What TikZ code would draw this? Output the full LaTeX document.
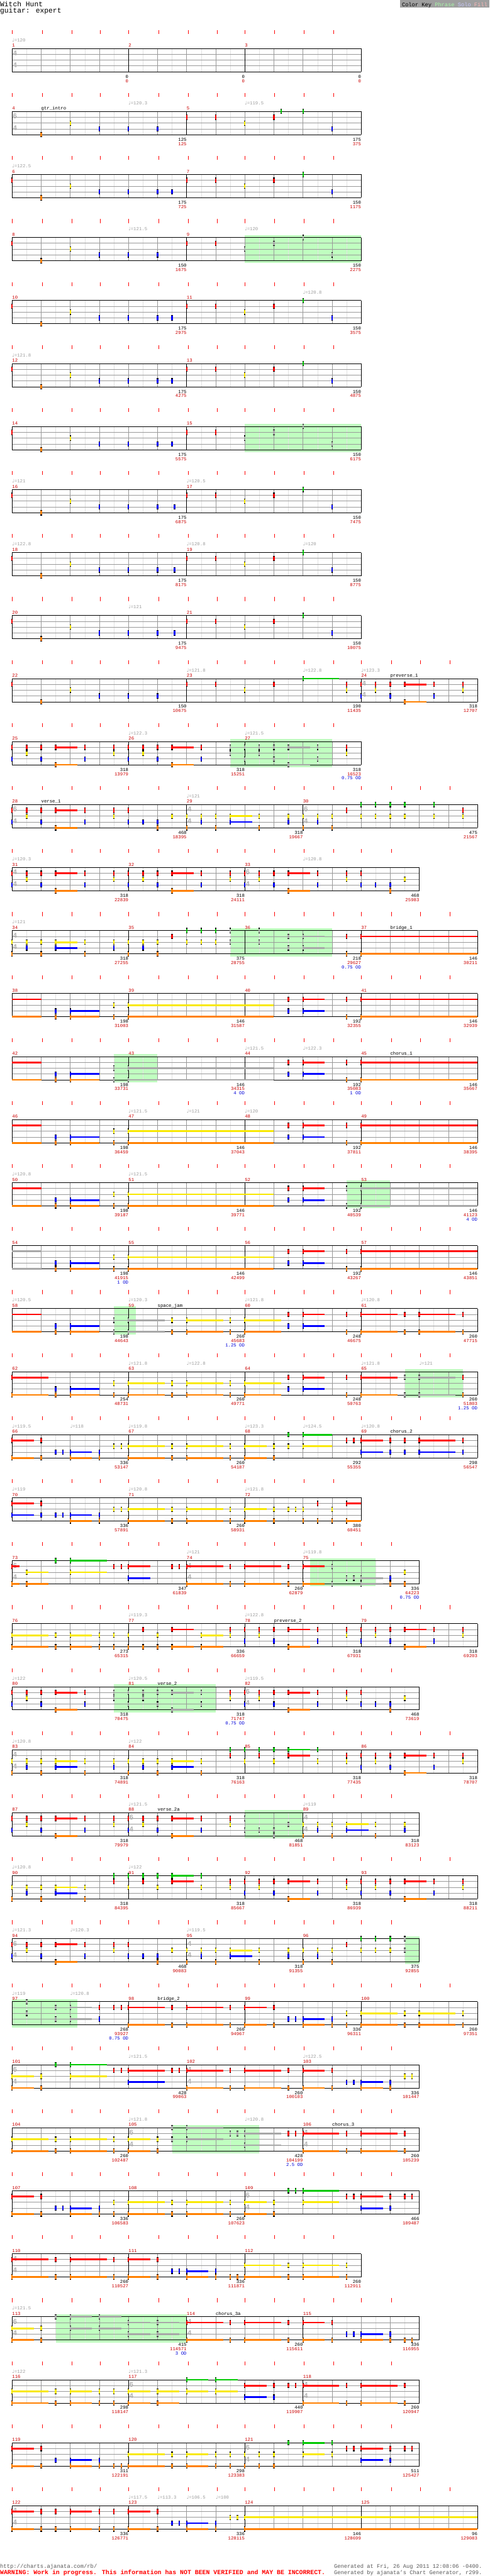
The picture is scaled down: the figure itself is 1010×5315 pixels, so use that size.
\documentclass[tikz,border=0pt]{standalone}
\usepackage{fontspec}
\setmainfont{Liberation Mono}
\newfontfamily\notefont{DejaVu Sans}
\definecolor{cG}{HTML}{00C800}
\definecolor{cR}{HTML}{FF0000}
\definecolor{cY}{HTML}{F8E800}
\definecolor{cB}{HTML}{0000FF}
\definecolor{cO}{HTML}{FF8000}
\definecolor{odg}{HTML}{A8A8A8}
\definecolor{odbg}{HTML}{C0FFC0}
\definecolor{gridl}{HTML}{E2E2E2}
\definecolor{gridd}{HTML}{999999}
\definecolor{numred}{HTML}{CC0000}
\definecolor{keyg}{HTML}{A8F8A8}
\definecolor{keyb}{HTML}{C8C8FF}
\definecolor{keyr}{HTML}{FFB8B8}

\def\lG{0}\def\lR{12}\def\lY{24}\def\lB{36}\def\lO{48}
\def\tA{25,88,148,207,265,328,388,448,505,567,628,688}
\def\tB{25,88,148,207,265,328,388,448,505,567,628,688,745,808}
\def\tC{25,88,148,207,265,328,388,448,505,567,628,688,745,808,868,928}

\newcommand{\nb}[3]{\fill[black] ({#3-1.5},{#2-5.5}) rectangle ({#3+1.5},{#2+5.5});\fill[#1] ({#3-1.5},{#2-4}) rectangle ({#3+1.5},{#2+4});}
\newcommand{\hold}[4]{\fill[#1] ({#3},{#2-1.8}) rectangle ({#4},{#2+1.8});}
\newcommand{\nt}[2]{\nb{c#1}{\csname l#1\endcsname}{#2}}
\newcommand{\gnt}[2]{\nb{odg}{\csname l#1\endcsname}{#2}}
\newcommand{\su}[3]{\hold{c#1}{\csname l#1\endcsname}{#2}{#3}\nt{#1}{#2}}
\newcommand{\gsu}[3]{\hold{odg}{\csname l#1\endcsname}{#2}{#3}\gnt{#1}{#2}}
\newcommand{\cont}[3]{\hold{c#1}{\csname l#1\endcsname}{#2}{#3}}
\newcommand{\gcont}[3]{\hold{odg}{\csname l#1\endcsname}{#2}{#3}}
\newcommand{\nn}[3]{\nt{#1}{#3}\nt{#2}{#3}}
\newcommand{\gnn}[3]{\gnt{#1}{#3}\gnt{#2}{#3}}
\newcommand{\dsu}[4]{\su{#1}{#3}{#4}\su{#2}{#3}{#4}}
\newcommand{\gdsu}[4]{\gsu{#1}{#3}{#4}\gsu{#2}{#3}{#4}}
\newcommand{\introA}[1]{\nt{R}{#1}\nt{O}{#1+60}\nt{Y}{#1+120}\nt{B}{#1+180}\nt{B}{#1+240}\nt{B}{#1+300}}
\newcommand{\introB}[1]{\nt{R}{#1}\nt{R}{#1+60}\nt{Y}{#1+120}\nt{R}{#1+180}\nt{G}{#1+240}\nt{B}{#1+300}}
\newcommand{\vriff}[1]{\nn{R}{B}{#1}\nn{R}{Y}{#1+30}\nn{R}{B}{#1+60}\dsu{R}{O}{#1+90}{#1+135}\nn{R}{B}{#1+150}\nn{R}{Y}{#1+210}}

\newcommand{\rowgrid}[2]{%
  \foreach \x in #2 {\draw[tickmark] (\x,-38) -- (\x,-30);}
  \foreach \x in {55,115,...,#1} {\draw[halfbeat] (\x,0) -- (\x,48);}
  \foreach \x in {85,145,...,#1} {\draw[beat] (\x,0) -- (\x,48);}
  \foreach \y in {12,24,36} {\draw[lane] (25,\y) -- (#1,\y);}
  \draw[staffedge] (25,0) -- (#1,0) (25,48) -- (#1,48) (#1,0) -- (#1,48);}
\newcommand{\meas}[2]{\draw[barline] (#1,0) -- (#1,48);\node[mnum] at (#1,-3) {#2};}
\newcommand{\tempo}[2]{\node[tempo] at (#1,-14) {{\notefont ♩}=#2};}
\newcommand{\sect}[2]{\node[sect] at (#1,-3) {#2};}
\newcommand{\cnt}[3]{\node[cntb] at (#1,61) {#2};\node[cntr] at (#1,70) {#3};}
\newcommand{\odn}[2]{\node[odl] at (#1,79) {#2 OD};}
\newcommand{\odbox}[2]{\fill[odbg] (#1,-5) rectangle (#2,53);}
\newcommand{\ts}[2]{\node[tsig] at (#1+6,10) {#2};\node[tsig] at (#1+6,34) {4};}

\begin{document}
\begin{tikzpicture}[x=1pt, y=-1pt,
    tickmark/.style={cR, line width=1.3pt},
    halfbeat/.style={gridl, line width=0.7pt},
    beat/.style={gridd, line width=0.8pt},
    lane/.style={gridd, line width=1pt},
    staffedge/.style={black, line width=1pt},
    barline/.style={black, line width=0.8pt},
    mnum/.style={anchor=base west, inner sep=0pt, text=numred, font=\fontsize{9.5}{9.5}\selectfont},
    tempo/.style={anchor=base west, inner sep=0pt, text=gray!75, font=\fontsize{9.5}{9.5}\selectfont},
    sect/.style={anchor=base west, inner sep=0pt, font=\fontsize{9.5}{9.5}\selectfont},
    cntb/.style={anchor=base east, inner sep=0pt, font=\fontsize{9.5}{9.5}\selectfont},
    cntr/.style={cntb, text=numred},
    odl/.style={cntb, text=blue!85!black},
    tsig/.style={inner sep=0pt, text=gray!60, font=\fontsize{15}{15}\selectfont\bfseries},
    foot/.style={anchor=base west, inner sep=0pt, font=\fontsize{11.5}{11.5}\selectfont}
]
\fill[white] (0,0) rectangle (1010,5315);
\node[anchor=base west, inner sep=0pt, font=\fontsize{14.7}{14.7}\selectfont] (title) at (0,13) {Witch Hunt};
\node[anchor=base west, inner sep=0pt, font=\fontsize{14.7}{14.7}\selectfont] (part) at (0,27) {guitar: expert};
\fill[gray!75] (825,0) rectangle (1010,16);
\node[anchor=base west, inner sep=0pt, font=\fontsize{11.3}{11.3}\selectfont] (key) at (829,13) {Color Key \textcolor{keyg}{Phrase} \textcolor{keyb}{Solo} \textcolor{keyr}{Fill}};

\begin{scope}[shift={(0,100)}]
\rowgrid{745}{\tA}
\meas{25}{1}\meas{265}{2}\meas{505}{3}
\ts{25}{4}
\tempo{25}{120}
\cnt{265}{0}{0}\cnt{505}{0}{0}\cnt{745}{0}{0}
\end{scope}

\begin{scope}[shift={(0,230)}]
\rowgrid{745}{\tA}
\meas{25}{4}\meas{385}{5}
\ts{25}{6}
\tempo{265}{120.3}\tempo{505}{119.5}
\sect{85}{gtr\_intro}
\nt{O}{85}\nt{Y}{145}\nt{B}{205}\nt{B}{265}\nt{B}{325}
\nt{R}{385}\nt{R}{445}\nt{Y}{505}\nt{R}{565}\nt{G}{580}\nt{G}{625}\nt{B}{685}
\cnt{385}{125}{125}\cnt{745}{175}{375}
\end{scope}

\begin{scope}[shift={(0,360)}]
\rowgrid{745}{\tA}
\meas{25}{6}\meas{385}{7}
\tempo{25}{122.5}
\introA{25}\nt{B}{355}\introB{385}
\cnt{385}{175}{725}\cnt{745}{150}{1175}
\end{scope}

\begin{scope}[shift={(0,490)}]
\odbox{505}{745}
\rowgrid{745}{\tA}
\meas{25}{8}\meas{385}{9}
\tempo{265}{121.5}\tempo{505}{120}
\introA{25}\nt{R}{385}\nt{R}{445}\gnt{Y}{505}\gnt{R}{565}\gnt{G}{625}\gnt{B}{685}
\cnt{385}{150}{1675}\cnt{745}{150}{2275}
\end{scope}

\begin{scope}[shift={(0,620)}]
\rowgrid{745}{\tA}
\meas{25}{10}\meas{385}{11}
\tempo{625}{120.8}
\introA{25}\nt{B}{355}\introB{385}
\cnt{385}{175}{2975}\cnt{745}{150}{3575}
\end{scope}

\begin{scope}[shift={(0,750)}]
\rowgrid{745}{\tA}
\meas{25}{12}\meas{385}{13}
\tempo{25}{121.8}
\introA{25}\nt{B}{355}\introB{385}
\cnt{385}{175}{4275}\cnt{745}{150}{4875}
\end{scope}

\begin{scope}[shift={(0,880)}]
\odbox{505}{745}
\rowgrid{745}{\tA}
\meas{25}{14}\meas{385}{15}
\introA{25}\nt{B}{355}\nt{R}{385}\nt{R}{445}\gnt{Y}{505}\gnt{R}{565}\gnt{G}{625}\gnt{B}{685}
\cnt{385}{175}{5575}\cnt{745}{150}{6175}
\end{scope}

\begin{scope}[shift={(0,1010)}]
\rowgrid{745}{\tA}
\meas{25}{16}\meas{385}{17}
\tempo{25}{121}\tempo{385}{120.5}
\introA{25}\nt{B}{360}\introB{385}
\cnt{385}{175}{6875}\cnt{745}{150}{7475}
\end{scope}

\begin{scope}[shift={(0,1140)}]
\rowgrid{745}{\tA}
\meas{25}{18}\meas{385}{19}
\tempo{25}{122.8}\tempo{385}{120.8}\tempo{625}{120}
\introA{25}\nt{B}{360}\introB{385}
\cnt{385}{175}{8175}\cnt{745}{150}{8775}
\end{scope}

\begin{scope}[shift={(0,1270)}]
\rowgrid{745}{\tA}
\meas{25}{20}\meas{385}{21}
\tempo{265}{121}
\introA{25}\nt{B}{360}\introB{385}
\cnt{385}{175}{9475}\cnt{745}{150}{10075}
\end{scope}

\begin{scope}[shift={(0,1400)}]
\rowgrid{985}{\tC}
\meas{25}{22}\meas{385}{23}\meas{745}{24}
\ts{745}{4}
\tempo{385}{121.8}\tempo{625}{122.8}\tempo{745}{123.3}
\sect{805}{preverse\_1}
\introA{25}\nt{R}{385}\nt{R}{445}\nt{Y}{505}\nt{R}{565}\su{G}{625}{700}
\nn{R}{Y}{715}\nn{R}{B}{745}\nn{R}{Y}{775}\nn{R}{B}{805}\dsu{R}{O}{835}{880}\nn{R}{B}{895}\nn{R}{Y}{955}
\cnt{385}{150}{10675}\cnt{745}{190}{11435}\cnt{985}{318}{12707}
\end{scope}

\begin{scope}[shift={(0,1530)}]
\odbox{475}{685}
\rowgrid{745}{\tA}
\meas{25}{25}\meas{265}{26}\meas{505}{27}
\tempo{265}{122.3}\tempo{505}{121.5}
\vriff{25}
\nn{R}{B}{265}\nn{R}{Y}{295}\nn{R}{B}{325}\dsu{R}{O}{355}{400}\nn{R}{B}{415}
\gnn{R}{Y}{475}\gnn{R}{B}{505}\gnn{R}{Y}{535}\gnn{R}{B}{565}\gdsu{R}{O}{595}{640}\gnn{R}{B}{655}
\nn{R}{Y}{715}
\cnt{265}{318}{13979}\cnt{505}{318}{15251}\cnt{745}{318}{16523}\odn{745}{0.75}
\end{scope}

\begin{scope}[shift={(0,1660)}]
\rowgrid{985}{\tC}
\meas{25}{28}\meas{385}{29}\meas{625}{30}
\ts{25}{6}\ts{385}{4}\ts{625}{6}
\tempo{385}{121}
\sect{85}{verse\_1}
\nn{R}{B}{25}\nn{R}{Y}{55}\nn{R}{B}{85}\dsu{R}{O}{115}{160}\nn{R}{B}{175}\nn{R}{Y}{235}\nn{R}{B}{265}
\nt{B}{295}\nn{B}{O}{325}\nt{Y}{355}\nn{Y}{O}{385}\nn{Y}{B}{415}\nn{Y}{O}{445}\dsu{Y}{B}{475}{520}
\nn{Y}{O}{535}\nn{Y}{B}{595}\nn{Y}{O}{625}\nn{Y}{B}{655}\nn{Y}{O}{685}\nt{R}{715}
\nn{G}{Y}{745}\nn{G}{Y}{775}\nn{G}{Y}{805}\nn{G}{Y}{835}\nn{G}{Y}{895}\nn{R}{Y}{955}
\cnt{385}{468}{18395}\cnt{625}{318}{19667}\cnt{985}{475}{21567}
\end{scope}

\begin{scope}[shift={(0,1790)}]
\rowgrid{865}{\tB}
\meas{25}{31}\meas{265}{32}\meas{505}{33}
\ts{25}{4}\ts{505}{6}
\tempo{25}{120.3}\tempo{625}{120.8}
\vriff{25}\vriff{265}
\nn{R}{B}{505}\nn{R}{Y}{535}\nn{R}{B}{565}\dsu{R}{O}{595}{640}\nn{R}{B}{655}\nn{R}{Y}{715}
\nn{R}{B}{745}\nt{B}{775}\nn{B}{O}{805}\nt{Y}{835}
\cnt{265}{318}{22839}\cnt{505}{318}{24111}\cnt{865}{468}{25983}
\end{scope}

\begin{scope}[shift={(0,1920)}]
\odbox{475}{685}
\rowgrid{985}{\tC}
\meas{25}{34}\meas{265}{35}\meas{505}{36}\meas{745}{37}
\ts{25}{4}
\tempo{25}{121}
\sect{805}{bridge\_1}
\nn{Y}{O}{25}\nn{Y}{B}{55}\nn{Y}{O}{85}\dsu{Y}{B}{115}{160}\nn{Y}{O}{175}\nn{Y}{B}{235}
\nn{Y}{O}{265}\nn{Y}{B}{295}\nn{Y}{O}{325}\nt{R}{355}\nn{G}{Y}{385}\nn{G}{Y}{415}\nn{G}{Y}{445}
\gnn{G}{Y}{475}\gnn{G}{Y}{535}\gnn{R}{B}{595}\gdsu{R}{B}{625}{670}
\nn{R}{O}{715}\dsu{R}{O}{745}{985}
\cnt{265}{318}{27255}\cnt{505}{375}{28755}\cnt{745}{218}{29627}\cnt{985}{146}{30211}\odn{745}{0.75}
\end{scope}

\begin{scope}[shift={(0,2050)}]
\rowgrid{985}{\tC}
\meas{25}{38}\meas{265}{39}\meas{505}{40}\meas{745}{41}
\cont{R}{25}{85}\cont{O}{25}{85}
\nn{B}{O}{115}\dsu{B}{O}{145}{205}\nn{Y}{O}{235}\dsu{Y}{O}{265}{565}
\nn{R}{B}{595}\dsu{R}{B}{625}{670}\nn{R}{O}{715}\dsu{R}{O}{745}{985}
\cnt{265}{198}{31003}\cnt{505}{146}{31587}\cnt{745}{192}{32355}\cnt{985}{146}{32939}
\end{scope}

\begin{scope}[shift={(0,2180)}]
\odbox{235}{325}
\rowgrid{985}{\tC}
\meas{25}{42}\meas{265}{43}\meas{505}{44}\meas{745}{45}
\tempo{505}{121.5}\tempo{625}{122.3}
\sect{805}{chorus\_1}
\cont{R}{25}{85}\cont{O}{25}{85}
\nn{B}{O}{115}\dsu{B}{O}{145}{205}\gnn{Y}{O}{235}\gdsu{Y}{O}{265}{565}
\nn{R}{B}{595}\dsu{R}{B}{625}{670}\nn{R}{O}{715}\dsu{R}{O}{745}{985}
\cnt{265}{198}{33731}\cnt{505}{146}{34315}\cnt{745}{192}{35083}\cnt{985}{146}{35667}
\odn{505}{4}\odn{745}{1}
\end{scope}

\begin{scope}[shift={(0,2310)}]
\rowgrid{985}{\tC}
\meas{25}{46}\meas{265}{47}\meas{505}{48}\meas{745}{49}
\tempo{265}{121.5}\tempo{385}{121}\tempo{505}{120}
\cont{R}{25}{85}\cont{O}{25}{85}
\nn{B}{O}{115}\dsu{B}{O}{145}{205}\nn{Y}{O}{235}\dsu{Y}{O}{265}{565}
\nn{R}{B}{595}\dsu{R}{B}{625}{670}\nn{R}{O}{715}\dsu{R}{O}{745}{985}
\cnt{265}{198}{36459}\cnt{505}{146}{37043}\cnt{745}{192}{37811}\cnt{985}{146}{38395}
\end{scope}

\begin{scope}[shift={(0,2440)}]
\odbox{715}{805}
\rowgrid{985}{\tC}
\meas{25}{50}\meas{265}{51}\meas{505}{52}\meas{745}{53}
\tempo{25}{120.8}\tempo{265}{121.5}
\cont{R}{25}{85}\cont{O}{25}{85}
\nn{B}{O}{115}\dsu{B}{O}{145}{205}\nn{Y}{O}{235}\dsu{Y}{O}{265}{565}
\nn{R}{B}{595}\dsu{R}{B}{625}{670}\gnn{R}{O}{715}\gdsu{R}{O}{745}{985}
\cnt{265}{198}{39187}\cnt{505}{146}{39771}\cnt{745}{192}{40539}\cnt{985}{146}{41123}\odn{985}{4}
\end{scope}

\begin{scope}[shift={(0,2570)}]
\rowgrid{985}{\tC}
\meas{25}{54}\meas{265}{55}\meas{505}{56}\meas{745}{57}
\gcont{R}{25}{85}\gcont{O}{25}{85}
\nn{B}{O}{115}\dsu{B}{O}{145}{205}\nn{Y}{O}{235}\dsu{Y}{O}{265}{565}
\nn{R}{B}{595}\dsu{R}{B}{625}{670}\nn{R}{O}{715}\dsu{R}{O}{745}{985}
\cnt{265}{198}{41915}\cnt{505}{146}{42499}\cnt{745}{192}{43267}\cnt{985}{146}{43851}\odn{265}{1}
\end{scope}

\begin{scope}[shift={(0,2700)}]
\odbox{235}{280}
\rowgrid{985}{\tC}
\meas{25}{58}\meas{265}{59}\meas{505}{60}\meas{745}{61}
\tempo{25}{120.5}\tempo{265}{120.3}\tempo{505}{121.8}\tempo{745}{120.8}
\sect{325}{space\_jam}
\cont{R}{25}{85}\cont{O}{25}{85}
\nn{B}{O}{115}\dsu{B}{O}{145}{205}\gnn{Y}{O}{235}\gdsu{Y}{O}{265}{340}\nn{Y}{O}{355}\dsu{Y}{O}{385}{460}
\nn{Y}{O}{475}\dsu{Y}{O}{505}{580}\nn{R}{B}{595}\dsu{R}{B}{625}{670}\nn{R}{O}{715}\dsu{R}{O}{745}{820}
\nn{R}{O}{835}\dsu{R}{O}{865}{940}\nn{R}{O}{955}
\cnt{265}{198}{44643}\cnt{505}{260}{45683}\cnt{745}{248}{46675}\cnt{985}{260}{47715}\odn{505}{1.25}
\end{scope}

\begin{scope}[shift={(0,2830)}]
\odbox{835}{955}
\rowgrid{985}{\tC}
\meas{25}{62}\meas{265}{63}\meas{505}{64}\meas{745}{65}
\tempo{265}{121.8}\tempo{385}{122.8}\tempo{745}{121.8}\tempo{865}{121}
\dsu{R}{O}{25}{100}\nn{B}{O}{115}\dsu{B}{O}{145}{205}\nn{Y}{O}{235}\dsu{Y}{O}{265}{340}\nn{Y}{O}{355}
\dsu{Y}{O}{385}{460}\nn{Y}{O}{475}\dsu{Y}{O}{505}{580}\nn{R}{B}{595}\dsu{R}{B}{625}{670}\nn{R}{O}{715}
\dsu{R}{O}{745}{820}\gnn{R}{O}{835}\gdsu{R}{O}{865}{940}\nn{R}{O}{955}
\cnt{265}{254}{48731}\cnt{505}{260}{49771}\cnt{745}{248}{50763}\cnt{985}{260}{51803}\odn{985}{1.25}
\end{scope}

\begin{scope}[shift={(0,2960)}]
\rowgrid{985}{\tC}
\meas{25}{66}\meas{265}{67}\meas{505}{68}\meas{745}{69}
\tempo{25}{119.5}\tempo{145}{118}\tempo{265}{119.8}\tempo{505}{123.3}\tempo{625}{124.5}\tempo{745}{120.8}
\sect{805}{chorus\_2}
\dsu{R}{O}{25}{70}\nn{R}{O}{85}\nt{B}{115}\nt{B}{130}\dsu{B}{O}{145}{190}\nn{B}{O}{205}\nt{Y}{235}\nt{Y}{250}
\dsu{Y}{O}{265}{340}\nn{Y}{O}{355}\dsu{Y}{O}{385}{460}\nn{Y}{O}{475}\dsu{Y}{O}{505}{550}\nn{Y}{O}{565}
\nn{G}{Y}{595}\dsu{G}{Y}{625}{685}\nt{R}{715}\nt{R}{730}\dsu{R}{B}{745}{790}\nn{R}{B}{805}\nn{R}{B}{835}
\dsu{R}{B}{865}{940}\nn{R}{B}{955}
\cnt{265}{336}{53147}\cnt{505}{260}{54187}\cnt{745}{292}{55355}\cnt{985}{298}{56547}
\end{scope}

\begin{scope}[shift={(0,3090)}]
\rowgrid{745}{\tA}
\meas{25}{70}\meas{265}{71}\meas{505}{72}
\tempo{25}{119}\tempo{265}{120.8}\tempo{505}{121.8}
\dsu{R}{B}{25}{70}\nn{R}{B}{85}\nt{B}{115}\nt{B}{130}\dsu{B}{O}{145}{190}\nn{B}{O}{205}\nt{Y}{235}\nt{Y}{250}
\dsu{Y}{O}{265}{340}\nn{Y}{O}{355}\dsu{Y}{O}{385}{460}\nn{Y}{O}{475}\dsu{Y}{O}{505}{550}\nn{Y}{O}{565}
\nt{Y}{595}\nt{Y}{610}\nn{Y}{O}{625}\nn{R}{O}{655}\nn{Y}{O}{685}\dsu{R}{O}{715}{745}
\cnt{265}{336}{57891}\cnt{505}{260}{58931}\cnt{745}{380}{60451}
\end{scope}

\begin{scope}[shift={(0,3220)}]
\odbox{640}{775}
\rowgrid{865}{\tB}
\meas{25}{73}\meas{385}{74}\meas{625}{75}
\ts{25}{6}\ts{385}{4}
\tempo{385}{121}\tempo{625}{119.8}
\dsu{R}{O}{25}{40}\dsu{Y}{O}{55}{100}\nt{G}{115}\dsu{G}{Y}{145}{220}\nt{R}{235}\nt{R}{250}\dsu{R}{B}{265}{310}
\nt{R}{355}\nt{R}{370}\dsu{R}{O}{385}{460}\nn{R}{O}{475}\dsu{R}{O}{505}{580}\nn{R}{O}{595}\dsu{R}{O}{625}{670}
\gnn{R}{O}{685}\gnt{B}{715}\gnt{B}{730}\gdsu{B}{O}{745}{790}\nn{B}{O}{805}\nn{Y}{O}{835}
\cnt{385}{347}{61839}\cnt{625}{260}{62879}\cnt{865}{336}{64223}\odn{865}{0.75}
\end{scope}

\begin{scope}[shift={(0,3350)}]
\rowgrid{985}{\tC}
\meas{25}{76}\meas{265}{77}\meas{505}{78}\meas{745}{79}
\tempo{265}{119.3}\tempo{505}{122.8}
\sect{565}{preverse\_2}
\dsu{Y}{O}{25}{100}\nn{Y}{O}{115}\dsu{Y}{O}{145}{190}\nn{Y}{O}{205}\nn{Y}{O}{235}\nn{Y}{O}{265}\nn{R}{O}{295}
\nn{Y}{O}{325}\dsu{R}{O}{355}{400}\dsu{Y}{O}{415}{460}\nn{R}{Y}{475}\nn{R}{B}{505}\nn{R}{Y}{535}\nn{R}{B}{565}
\dsu{R}{O}{595}{640}\nn{R}{B}{655}\nn{R}{Y}{715}\nn{R}{B}{745}\nn{R}{Y}{775}\nn{R}{B}{805}\dsu{R}{O}{835}{880}
\nn{R}{B}{895}\nn{R}{Y}{955}
\cnt{265}{273}{65315}\cnt{505}{336}{66659}\cnt{745}{318}{67931}\cnt{985}{318}{69203}
\end{scope}

\begin{scope}[shift={(0,3480)}]
\odbox{235}{445}
\rowgrid{865}{\tB}
\meas{25}{80}\meas{265}{81}\meas{505}{82}
\ts{505}{6}
\tempo{25}{122}\tempo{265}{120.5}\tempo{505}{119.5}
\sect{325}{verse\_2}
\nn{R}{B}{25}\nn{R}{Y}{55}\nn{R}{B}{85}\dsu{R}{O}{115}{160}\nn{R}{B}{175}
\gnn{R}{Y}{235}\gnn{R}{B}{265}\gnn{R}{Y}{295}\gnn{R}{B}{325}\gdsu{R}{O}{355}{400}\gnn{R}{B}{415}
\nn{R}{Y}{475}\nn{R}{B}{505}\nn{R}{Y}{535}\nn{R}{B}{565}\dsu{R}{O}{595}{640}\nn{R}{B}{655}\nn{R}{Y}{715}
\nn{R}{B}{745}\nt{B}{775}\nn{B}{O}{805}\nt{Y}{835}
\cnt{265}{318}{70475}\cnt{505}{318}{71747}\cnt{865}{468}{73619}\odn{505}{0.75}
\end{scope}

\begin{scope}[shift={(0,3610)}]
\rowgrid{985}{\tC}
\meas{25}{83}\meas{265}{84}\meas{505}{85}\meas{745}{86}
\ts{25}{4}
\tempo{25}{120.8}\tempo{265}{122}
\nn{Y}{O}{25}\nn{Y}{B}{55}\nn{Y}{O}{85}\dsu{Y}{B}{115}{160}\nn{Y}{O}{175}\nn{Y}{B}{235}\nn{Y}{O}{265}
\nn{Y}{B}{295}\nn{Y}{O}{325}\dsu{Y}{B}{355}{400}\nn{Y}{O}{415}\nn{G}{R}{475}\nn{G}{Y}{505}\nn{G}{R}{535}
\nn{G}{Y}{565}\dsu{G}{R}{595}{640}\nn{G}{Y}{655}\nn{R}{Y}{715}\nn{R}{B}{745}\nn{R}{Y}{775}\nn{R}{B}{805}
\dsu{R}{O}{835}{880}\nn{R}{B}{895}\nn{R}{Y}{955}
\cnt{265}{318}{74891}\cnt{505}{318}{76163}\cnt{745}{318}{77435}\cnt{985}{318}{78707}
\end{scope}

\begin{scope}[shift={(0,3740)}]
\odbox{505}{625}
\rowgrid{865}{\tB}
\meas{25}{87}\meas{265}{88}\meas{625}{89}
\ts{265}{6}\ts{625}{4}
\tempo{265}{121.5}\tempo{625}{119}
\sect{325}{verse\_2a}
\vriff{25}
\nn{R}{B}{265}\nn{R}{Y}{295}\nn{R}{B}{325}\dsu{R}{O}{355}{400}\nn{R}{B}{415}\nn{R}{Y}{475}
\gnn{R}{B}{505}\gnt{B}{535}\gnn{B}{O}{565}\gnt{Y}{595}
\nn{Y}{O}{625}\nn{Y}{B}{655}\nn{Y}{O}{685}\dsu{Y}{B}{715}{760}\nn{Y}{O}{775}\nn{Y}{B}{835}
\cnt{265}{318}{79979}\cnt{625}{468}{81851}\cnt{865}{318}{83123}
\end{scope}

\begin{scope}[shift={(0,3870)}]
\rowgrid{985}{\tC}
\meas{25}{90}\meas{265}{91}\meas{505}{92}\meas{745}{93}
\tempo{25}{120.8}\tempo{265}{122}
\nn{Y}{O}{25}\nn{Y}{B}{55}\nn{Y}{O}{85}\dsu{Y}{B}{115}{160}\nn{Y}{O}{175}\nn{G}{R}{235}\nn{G}{Y}{265}
\nn{G}{R}{295}\nn{G}{Y}{325}\dsu{G}{R}{355}{400}\nn{G}{Y}{415}\nn{R}{Y}{475}\nn{R}{B}{505}\nn{R}{Y}{535}
\nn{R}{B}{565}\dsu{R}{O}{595}{640}\nn{R}{B}{655}\nn{R}{Y}{715}\nn{R}{B}{745}\nn{R}{Y}{775}\nn{R}{B}{805}
\dsu{R}{O}{835}{880}\nn{R}{B}{895}\nn{R}{Y}{955}
\cnt{265}{318}{84395}\cnt{505}{318}{85667}\cnt{745}{318}{86939}\cnt{985}{318}{88211}
\end{scope}

\begin{scope}[shift={(0,4000)}]
\odbox{835}{865}
\rowgrid{865}{\tB}
\meas{25}{94}\meas{385}{95}\meas{625}{96}
\ts{25}{6}\ts{385}{4}
\tempo{25}{121.3}\tempo{145}{120.3}\tempo{385}{119.5}
\nn{R}{B}{25}\nn{R}{Y}{55}\nn{R}{B}{85}\dsu{R}{O}{115}{160}\nn{R}{B}{175}\nn{R}{Y}{235}\nn{R}{B}{265}
\nt{B}{295}\nn{B}{O}{325}\nt{Y}{355}\nn{Y}{O}{385}\nn{Y}{B}{415}\nn{Y}{O}{445}\dsu{Y}{B}{475}{520}
\nn{Y}{O}{535}\nn{Y}{B}{595}\nn{Y}{O}{625}\nn{Y}{B}{655}\nn{Y}{O}{685}\nt{R}{715}
\nn{G}{Y}{745}\nn{G}{Y}{775}\nn{G}{Y}{805}\gnn{G}{Y}{835}
\cnt{385}{468}{90083}\cnt{625}{318}{91355}\cnt{865}{375}{92855}
\end{scope}

\begin{scope}[shift={(0,4130)}]
\odbox{25}{160}
\rowgrid{985}{\tC}
\meas{25}{97}\meas{265}{98}\meas{505}{99}\meas{745}{100}
\tempo{25}{119}\tempo{145}{120.8}
\sect{325}{bridge\_2}
\gnn{G}{Y}{55}\gnn{R}{B}{115}\gdsu{R}{B}{145}{190}\nn{R}{B}{205}\nt{R}{235}\nt{R}{250}\dsu{R}{O}{265}{340}
\nn{R}{O}{355}\dsu{R}{O}{385}{460}\nn{R}{O}{475}\dsu{R}{O}{505}{550}\nn{R}{O}{565}\nt{B}{595}\nt{B}{610}
\dsu{B}{O}{625}{670}\nn{B}{O}{685}\nn{Y}{O}{715}\dsu{Y}{O}{745}{820}\nn{Y}{O}{835}\dsu{Y}{O}{865}{940}\nn{Y}{O}{955}
\cnt{265}{268}{93927}\cnt{505}{260}{94967}\cnt{745}{336}{96311}\cnt{985}{260}{97351}\odn{265}{0.75}
\end{scope}

\begin{scope}[shift={(0,4260)}]
\rowgrid{865}{\tB}
\meas{25}{101}\meas{385}{102}\meas{625}{103}
\ts{25}{6}\ts{385}{4}
\tempo{265}{121.5}\tempo{625}{122.5}
\dsu{Y}{O}{25}{70}\nn{Y}{O}{85}\nt{G}{115}\dsu{G}{Y}{145}{220}\nt{R}{235}\nt{R}{250}\dsu{R}{B}{265}{340}
\nt{R}{355}\nt{R}{370}\dsu{R}{O}{385}{460}\nn{R}{O}{475}\dsu{R}{O}{505}{580}\nn{R}{O}{595}\dsu{R}{O}{625}{670}
\nn{R}{O}{685}\nt{B}{715}\nt{B}{730}\dsu{B}{O}{745}{790}\nn{B}{O}{805}\nt{Y}{835}\nt{Y}{850}
\cnt{385}{428}{99063}\cnt{625}{260}{100103}\cnt{865}{336}{101447}
\end{scope}

\begin{scope}[shift={(0,4390)}]
\odbox{355}{535}
\rowgrid{865}{\tB}
\meas{25}{104}\meas{265}{105}\meas{625}{106}
\ts{265}{6}\ts{625}{4}
\tempo{265}{121.8}\tempo{505}{120.8}
\sect{685}{chorus\_3}
\dsu{Y}{O}{25}{100}\nn{Y}{O}{115}\dsu{Y}{O}{145}{220}\nn{Y}{O}{235}\dsu{Y}{O}{265}{310}\nn{Y}{O}{325}
\gnn{G}{Y}{355}\gdsu{G}{Y}{385}{460}\gnt{R}{475}\gnt{R}{490}\gdsu{R}{B}{505}{580}
\nt{R}{595}\nt{R}{610}\dsu{R}{O}{625}{700}\nn{R}{O}{715}\dsu{R}{O}{745}{820}\nn{R}{O}{835}
\cnt{265}{260}{102487}\cnt{625}{428}{104199}\cnt{865}{260}{105239}\odn{625}{2.5}
\end{scope}

\begin{scope}[shift={(0,4520)}]
\rowgrid{865}{\tB}
\meas{25}{107}\meas{265}{108}\meas{505}{109}
\ts{505}{6}
\dsu{R}{O}{25}{70}\nn{R}{O}{85}\nt{B}{115}\nt{B}{130}\dsu{B}{O}{145}{190}\nn{B}{O}{205}\nn{Y}{O}{235}
\dsu{Y}{O}{265}{340}\nn{Y}{O}{355}\dsu{Y}{O}{385}{460}\nn{Y}{O}{475}\dsu{Y}{O}{505}{550}\nn{Y}{O}{565}
\nt{G}{595}\nt{G}{610}\dsu{G}{Y}{625}{700}\nt{R}{715}\nt{R}{730}\dsu{R}{B}{745}{790}\nn{R}{B}{805}
\nt{R}{835}\nt{R}{850}
\cnt{265}{336}{106583}\cnt{505}{260}{107623}\cnt{865}{466}{109487}
\end{scope}

\begin{scope}[shift={(0,4650)}]
\rowgrid{745}{\tA}
\meas{25}{110}\meas{265}{111}\meas{505}{112}
\ts{25}{4}
\dsu{R}{O}{25}{100}\nn{R}{O}{115}\dsu{R}{O}{145}{220}\nn{R}{O}{235}\dsu{R}{O}{265}{310}\nn{R}{O}{325}
\nt{B}{355}\nt{B}{370}\dsu{B}{O}{385}{430}\nn{B}{O}{445}\nt{O}{475}\nt{O}{490}
\dsu{Y}{O}{505}{580}\nn{Y}{O}{595}\dsu{Y}{O}{625}{700}\nn{Y}{O}{715}
\cnt{265}{260}{110527}\cnt{505}{336}{111871}\cnt{745}{260}{112911}
\end{scope}

\begin{scope}[shift={(0,4780)}]
\odbox{115}{385}
\rowgrid{865}{\tB}
\meas{25}{113}\meas{385}{114}\meas{625}{115}
\ts{25}{6}\ts{385}{4}
\tempo{25}{121.5}
\sect{445}{chorus\_3a}
\dsu{Y}{O}{25}{70}\nn{Y}{O}{85}\gnt{G}{115}\gdsu{G}{Y}{145}{190}\gdsu{G}{Y}{205}{250}
\gdsu{R}{B}{265}{310}\gdsu{R}{B}{325}{370}
\dsu{R}{O}{385}{460}\nn{R}{O}{475}\dsu{R}{O}{505}{580}\nn{R}{O}{595}\dsu{R}{O}{625}{670}\nn{R}{O}{685}
\nt{B}{715}\nt{B}{730}\dsu{B}{O}{745}{790}\nn{B}{O}{805}\nt{O}{835}\nt{O}{850}
\cnt{385}{415}{114571}\cnt{625}{260}{115611}\cnt{865}{336}{116955}\odn{385}{3}
\end{scope}

\begin{scope}[shift={(0,4910)}]
\rowgrid{865}{\tB}
\meas{25}{116}\meas{265}{117}\meas{625}{118}
\ts{265}{6}\ts{625}{4}
\tempo{25}{122}\tempo{265}{121.3}
\dsu{Y}{O}{25}{100}\nn{Y}{O}{115}\dsu{Y}{O}{145}{190}\nn{Y}{O}{205}\nn{Y}{O}{235}\dsu{Y}{O}{265}{310}
\dsu{Y}{O}{325}{370}\dsu{G}{Y}{385}{430}\dsu{G}{Y}{445}{490}\dsu{R}{B}{505}{550}\nn{R}{B}{565}
\nt{R}{595}\nt{R}{610}\dsu{R}{O}{625}{700}\nn{R}{O}{715}\dsu{R}{O}{745}{820}\nn{R}{O}{835}
\cnt{265}{298}{118147}\cnt{625}{440}{119907}\cnt{865}{260}{120947}
\end{scope}

\begin{scope}[shift={(0,5040)}]
\rowgrid{865}{\tB}
\meas{25}{119}\meas{265}{120}\meas{505}{121}
\ts{505}{6}
\dsu{R}{O}{25}{70}\nn{R}{O}{85}\nt{B}{115}\dsu{B}{O}{145}{190}\nn{B}{O}{205}\nt{O}{235}\nt{O}{250}
\dsu{Y}{O}{265}{340}\nn{Y}{O}{355}\dsu{Y}{O}{385}{430}\nn{Y}{O}{445}\nn{Y}{O}{475}\nn{Y}{O}{505}
\nn{Y}{O}{535}\nn{Y}{O}{565}\nt{G}{595}\dsu{G}{Y}{625}{670}\nn{G}{Y}{685}\nt{R}{715}\nt{R}{730}
\dsu{R}{B}{745}{790}\nn{R}{B}{805}\nt{R}{835}\nt{R}{850}
\cnt{265}{311}{122191}\cnt{505}{298}{123383}\cnt{865}{511}{125427}
\end{scope}

\begin{scope}[shift={(0,5170)}]
\rowgrid{985}{\tC}
\meas{25}{122}\meas{265}{123}\meas{505}{124}\meas{745}{125}
\ts{25}{4}
\tempo{265}{117.5}\tempo{325}{113.3}\tempo{385}{106.5}\tempo{445}{100}
\dsu{R}{O}{25}{70}\nn{R}{O}{85}\nn{R}{O}{115}\dsu{R}{O}{145}{190}\nn{R}{O}{205}\nn{R}{O}{235}
\dsu{R}{O}{265}{310}\nn{R}{O}{325}\nt{B}{355}\nt{B}{370}\dsu{B}{O}{385}{430}\nn{B}{O}{445}
\nt{Y}{475}\nt{Y}{490}\dsu{Y}{O}{505}{985}
\cnt{265}{336}{126771}\cnt{505}{336}{128115}\cnt{745}{146}{128699}\cnt{985}{96}{129083}
\end{scope}

\node[foot, text=gray!70!black] (url) at (0,5299) {http://charts.ajanata.com/rb/};
\node[foot, text=red, font=\fontsize{12.8}{12.8}\selectfont\bfseries] (warn) at (0,5312) {WARNING: Work in progress. This information has NOT BEEN VERIFIED and MAY BE INCORRECT.};
\node[foot, text=gray!70!black, font=\fontsize{11.3}{11.3}\selectfont] (gen) at (689,5299) {Generated at Fri, 26 Aug 2011 12:08:06 -0400.};
\node[foot, text=gray!70!black, font=\fontsize{11.3}{11.3}\selectfont] (by) at (689,5312) {Generated by ajanata's Chart Generator, r299.};
\end{tikzpicture}
\end{document}
